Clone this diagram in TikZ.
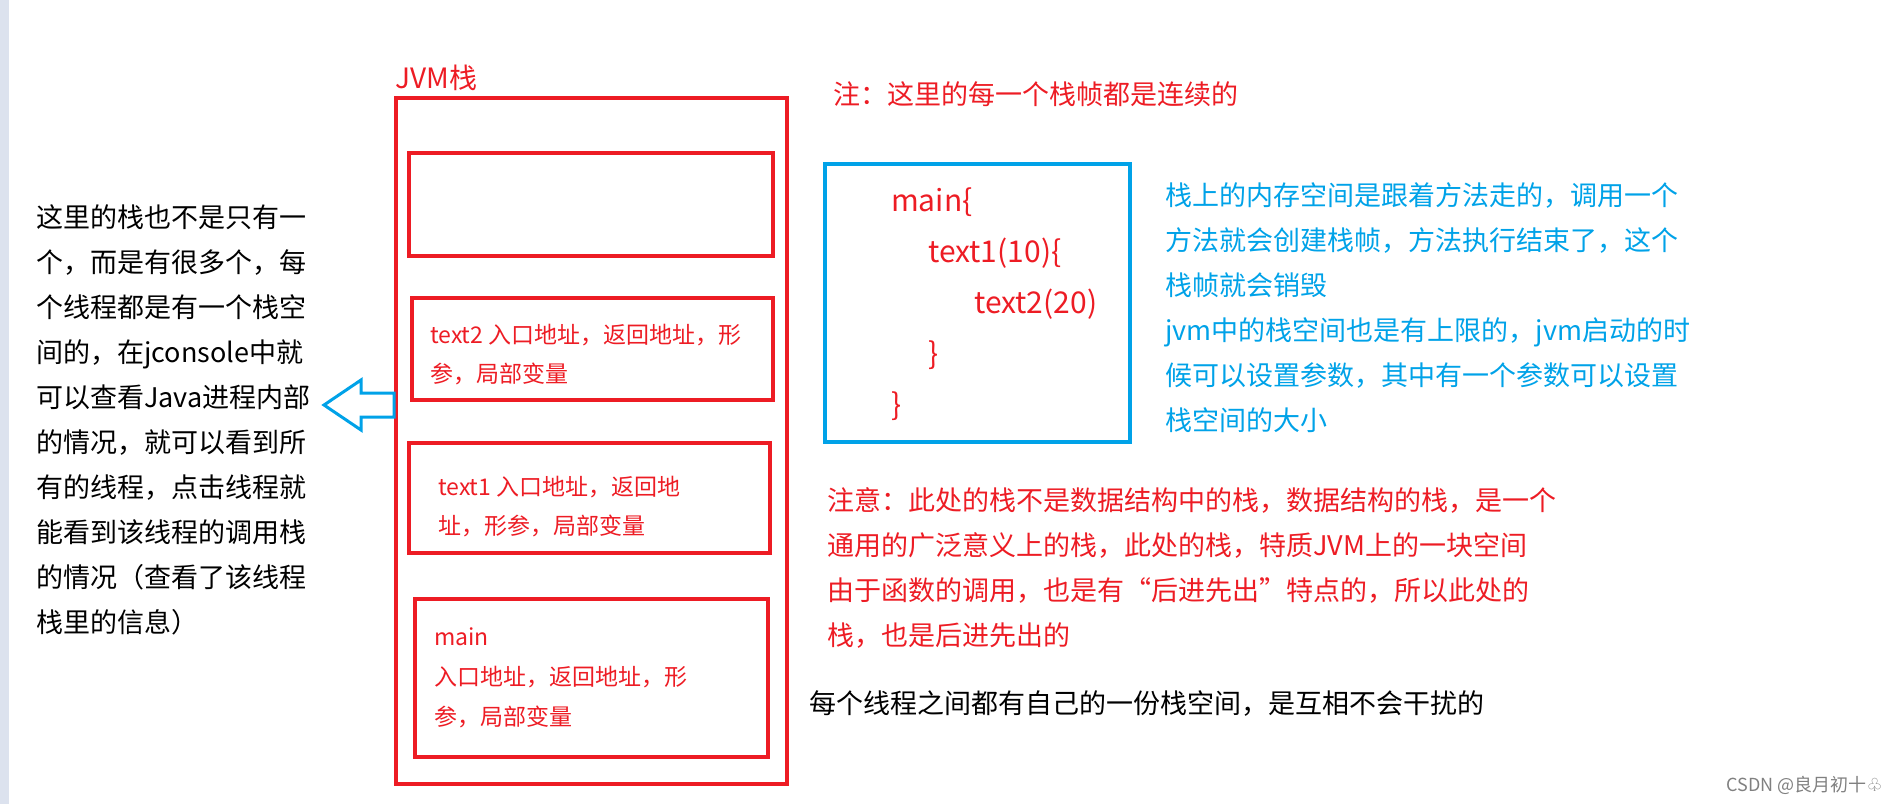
\documentclass[tikz,border=0pt]{standalone}
\usepackage{fontspec}
\setmainfont{Noto Sans CJK SC}
\newfontfamily\symfont{DejaVu Sans}
\usetikzlibrary{positioning,fit}
\definecolor{jvmred}{HTML}{ED1C24}
\definecolor{jvmblue}{HTML}{00A2E8}
\definecolor{edgestrip}{HTML}{DCE2EE}

\begin{document}
\begin{tikzpicture}[
  x=1pt, y=-1pt,
  frame/.style={draw=jvmred, line width=4pt, inner sep=0pt},
  callbox/.style={draw=jvmblue, line width=4.5pt, inner sep=0pt},
  note/.style={anchor=base west, inner sep=0pt, align=left, font=\fontsize{27}{45}\selectfont},
  frametext/.style={anchor=base west, inner sep=0pt, align=left, text=jvmred, font=\fontsize{23}{39}\selectfont},
  codeline/.style={anchor=base west, inner sep=0pt, text=jvmred, font=\fontsize{30}{30}\selectfont},
]
  \useasboundingbox (0,0) rectangle (1899,804);
  \fill[edgestrip] (0,0) rectangle (9,804);

  % the JVM stack with its frames (multi-line texts sit on their last baseline)
  \node[frame, fit={(396,98) (787,784)}] (stack) {};
  \node[anchor=base west, inner sep=0pt, text=jvmred, font=\fontsize{28}{28}\selectfont] (stacklabel) at (395,88) {JVM栈};
  \node[frame, fit={(409,153) (773,256)}] (emptyframe) {};
  \node[frame, fit={(412,298) (773,400)}] (textframe2) {};
  \node[frame, fit={(409,443) (770,553)}] (textframe1) {};
  \node[frame, fit={(415,599) (768,757)}] (mainframe) {};
  \node[frametext] (text2info) at (430,382) {text2 入口地址，返回地址，形\\参，局部变量};
  \node[frametext] (text1info) at (438,534) {text1 入口地址，返回地\\址，形参，局部变量};
  \node[frametext, font=\fontsize{23}{40}\selectfont] (maininfo) at (434,725) {main\\入口地址，返回地址，形\\参，局部变量};

  % left note and hollow arrow
  \node[note] (threadnote) at (36,632) {这里的栈也不是只有一\\个，而是有很多个，每\\个线程都是有一个栈空\\间的，在jconsole中就\\可以查看Java进程内部\\的情况，就可以看到所\\有的线程，点击线程就\\能看到该线程的调用栈\\的情况（查看了该线程\\栈里的信息）};
  \coordinate (arrowtip) at (324,405);
  \draw[jvmblue, line width=3pt, line join=miter] (arrowtip) -- ++(37,-25) -- ++(0,13) -- (stack.west |- 0,393) -- ++(0,24) -- (361,417) -- ++(0,13) -- cycle;

  % call chain
  \node[note, text=jvmred] (contnote) at (833,104) {注：这里的每一个栈帧都是连续的};
  \node[callbox, fit={(825,164) (1130,442)}] (calls) {};
  \node[codeline] (callmain) at (891,211) {main\{};
  \node[codeline] (calltext1) at (928,262) {text1(10)\{};
  \node[codeline] (calltext2) at (974,313) {text2(20)};
  \node[codeline] (closetext1) at (928,364) {\}};
  \node[codeline] (closemain) at (891,415) {\}};
  \node[note, text=jvmblue] (memnote) at (1165,430) {栈上的内存空间是跟着方法走的，调用一个\\方法就会创建栈帧，方法执行结束了，这个\\栈帧就会销毁\\jvm中的栈空间也是有上限的，jvm启动的时\\候可以设置参数，其中有一个参数可以设置\\栈空间的大小};

  % notes below
  \node[note, text=jvmred] (datanote) at (827,645) {注意：此处的栈不是数据结构中的栈，数据结构的栈，是一个\\通用的广泛意义上的栈，此处的栈，特质JVM上的一块空间\\由于函数的调用，也是有“后进先出”特点的，所以此处的\\栈，也是后进先出的};
  \node[note] (ownnote) at (809,713) {每个线程之间都有自己的一份栈空间，是互相不会干扰的};
  \node[anchor=base east, inner sep=0pt, text=gray, font=\fontsize{18}{18}\selectfont] (watermark) at (1883,791) {CSDN @良月初十{\symfont ♧}};
\end{tikzpicture}
\end{document}
